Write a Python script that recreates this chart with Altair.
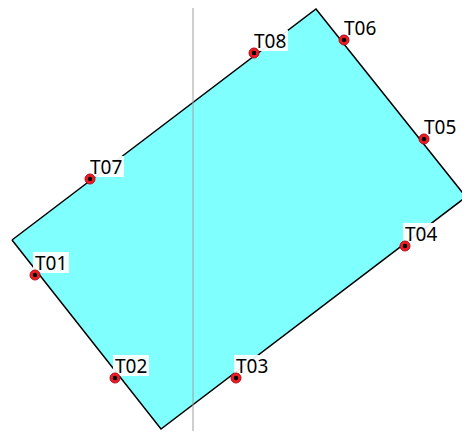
import altair as alt
import pandas as pd

# Polygon vertices (map-like coordinates)
poly_x = [12, 316, 466, 161, 12]
poly_y = [199, 430, 242, 10, 199]

# Labelled points
labels = ["T01", "T02", "T03", "T04", "T05", "T06", "T07", "T08"]
pt_x = [35, 115, 236, 405, 424, 344, 90, 254]
pt_y = [164, 61, 61, 193, 300, 399, 260, 386]

# Vertical reference line
line_x = [193]

poly = pd.DataFrame({"x": poly_x, "y": poly_y, "o": list(range(len(poly_x)))})
pts = pd.DataFrame({"x": pt_x, "y": pt_y, "label": labels})
vline = pd.DataFrame({"x": line_x})

xs = alt.Scale(domain=[8, 462], nice=False, zero=False)
ys = alt.Scale(domain=[8, 431], nice=False, zero=False)
X = alt.X("x:Q", scale=xs, axis=None)
Y = alt.Y("y:Q", scale=ys, axis=None)

polygon = alt.Chart(poly).mark_line(
    fill="#80ffff", stroke="black", strokeWidth=1.5, strokeJoin="miter"
).encode(x=X, y=Y, order="o:Q")

rule = alt.Chart(vline).mark_rule(color="#a0a0a0", strokeWidth=1).encode(x=X)

box = alt.Chart(pts).mark_rect(
    color="white", opacity=0.92,
    xOffset=-2, x2Offset=34, yOffset=-23, y2Offset=-2
).encode(x=X, x2="x:Q", y=Y, y2="y:Q")

red = alt.Chart(pts).mark_point(
    shape="circle", filled=True, fill="#ee1c24", stroke="#b0101a",
    strokeWidth=1, size=100, opacity=1
).encode(x=X, y=Y)

dot = alt.Chart(pts).mark_point(
    shape="circle", filled=True, color="black", size=20, opacity=1
).encode(x=X, y=Y)

text = alt.Chart(pts).mark_text(
    align="left", baseline="alphabetic", dx=0, dy=-5,
    font="Noto Sans", fontSize=19, color="black"
).encode(x=X, y=Y, text="label:N")

chart = alt.layer(polygon, rule, box, red, dot, text).properties(
    width=454, height=423, autosize=alt.AutoSizeParams(type="none"), padding=0
).configure_view(stroke=None)

chart.save("out.html", embed_options={"renderer": "svg", "actions": False})
